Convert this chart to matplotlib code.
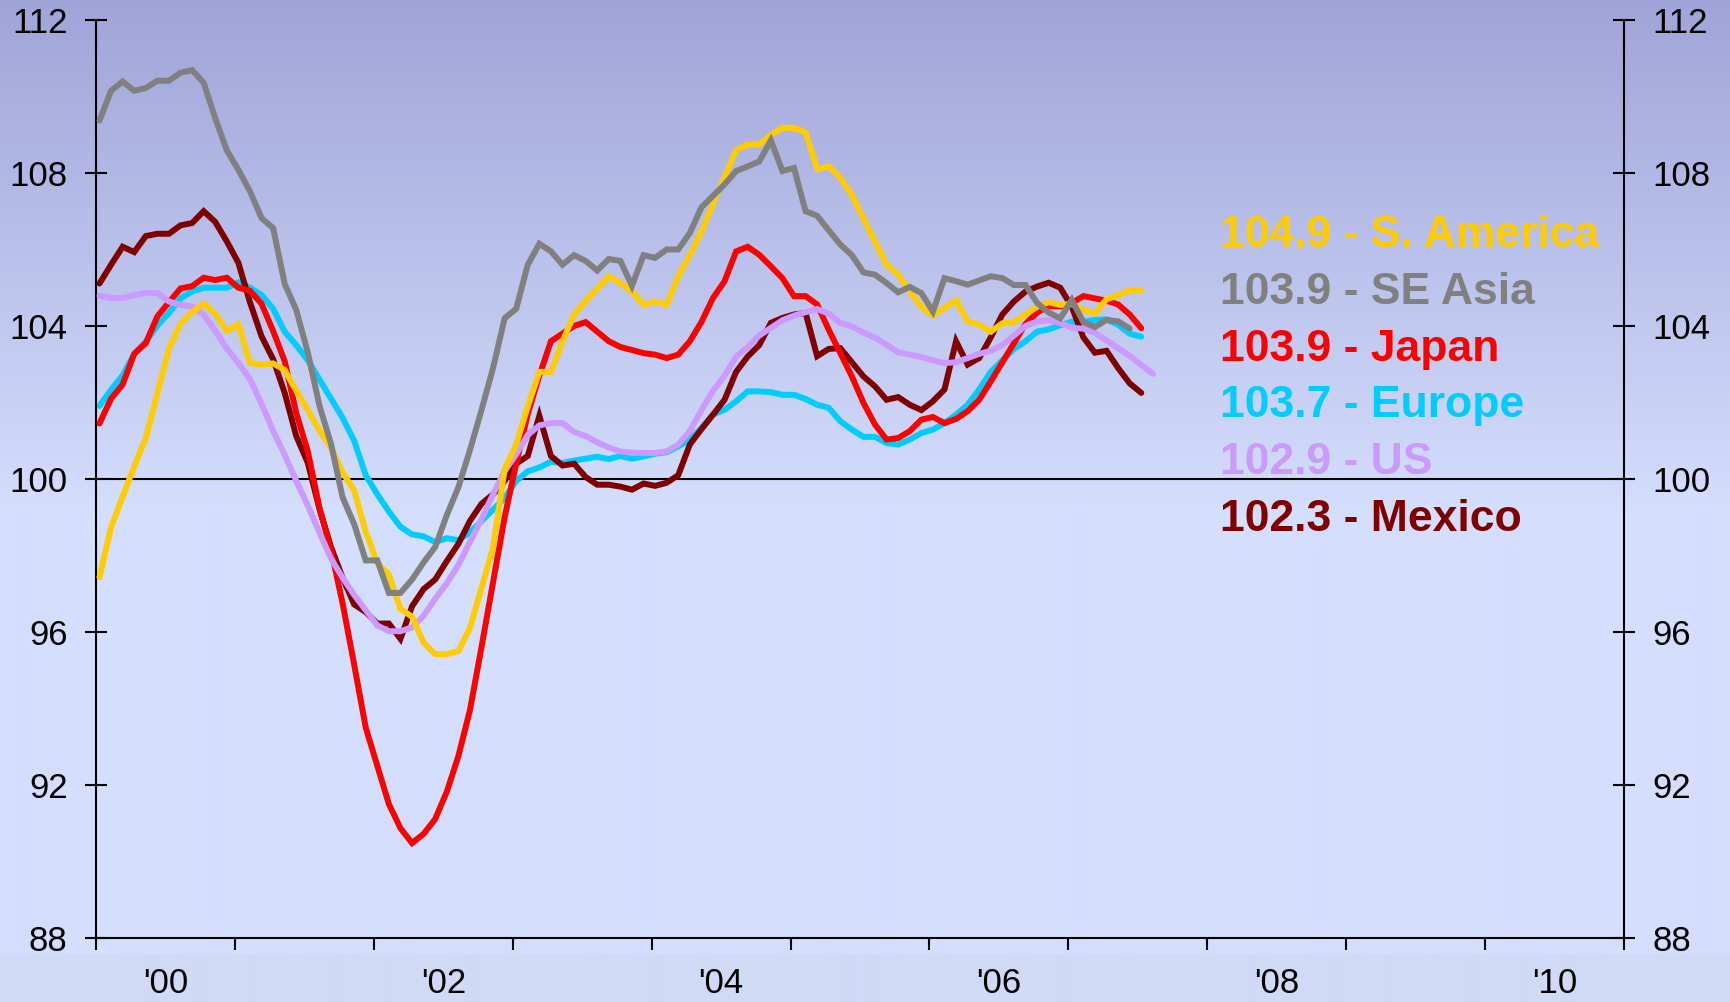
import numpy as np
from matplotlib import pyplot

# monthly index values, Jan 2000 onwards
s_america = [97.43, 98.74, 99.53, 100.33, 101.07, 102.24, 103.41, 104.06, 104.36, 104.58,
             104.32, 103.87, 104.04, 103.03, 102.99, 103.02, 102.85, 102.3, 101.8, 101.27,
             100.82, 100.17, 99.7, 98.62, 97.8, 97.5, 96.6, 96.4, 95.72, 95.42,
             95.42, 95.5, 96.1, 97.15, 98.2, 100.25, 100.9, 101.9, 102.8, 102.8,
             103.6, 104.3, 104.65, 104.98, 105.3, 105.12, 104.9, 104.56, 104.64, 104.56,
             105.3, 105.86, 106.47, 107.2, 107.9, 108.6, 108.74, 108.74, 109.0, 109.18,
             109.18, 109.06, 108.1, 108.17, 107.87, 107.43, 106.8, 106.2, 105.6, 105.34,
             104.9, 104.5, 104.27, 104.47, 104.67, 104.12, 104.03, 103.85, 104.07, 104.1,
             104.3, 104.5, 104.62, 104.55, 104.57, 104.42, 104.33, 104.7, 104.8, 104.94,
             104.94]
se_asia = [109.37, 110.15, 110.39, 110.15, 110.22, 110.41, 110.41, 110.62, 110.69, 110.36,
           109.43, 108.59, 108.08, 107.52, 106.82, 106.56, 105.1, 104.42, 103.3, 101.92,
           100.92, 99.52, 98.82, 97.87, 97.87, 97.02, 97.02, 97.37, 97.82, 98.22,
           99.05, 99.78, 100.75, 101.8, 102.9, 104.2, 104.45, 105.6, 106.15, 105.95,
           105.6, 105.85, 105.7, 105.45, 105.75, 105.7, 105.05, 105.85, 105.78, 106.0,
           106.0, 106.43, 107.1, 107.4, 107.7, 108.05, 108.17, 108.3, 108.85, 108.05,
           108.13, 107.0, 106.88, 106.5, 106.13, 105.85, 105.4, 105.34, 105.12, 104.88,
           105.02, 104.86, 104.38, 105.25, 105.17, 105.08, 105.19, 105.3, 105.25, 105.07,
           105.07, 104.6, 104.35, 104.2, 104.68, 104.1, 103.97, 104.16, 104.12, 103.93]
japan = [101.45, 102.1, 102.47, 103.27, 103.55, 104.25, 104.62, 104.98, 105.04, 105.26,
         105.2, 105.26, 105.0, 104.92, 104.58, 103.87, 103.08, 101.72, 100.72, 99.25,
         98.15, 96.75, 95.15, 93.5, 92.5, 91.5, 90.87, 90.48, 90.72, 91.11,
         91.82, 92.75, 93.95, 95.6, 97.3, 99.0, 100.4, 101.7, 102.7, 103.6,
         103.8, 104.0, 104.1, 103.85, 103.6, 103.45, 103.37, 103.29, 103.25, 103.16,
         103.25, 103.6, 104.1, 104.73, 105.17, 105.95, 106.07, 105.86, 105.56, 105.25,
         104.78, 104.78, 104.56, 103.9, 103.29, 102.68, 101.99, 101.42, 101.03, 101.07,
         101.25, 101.55, 101.62, 101.46, 101.57, 101.77, 102.07, 102.55, 103.05, 103.55,
         104.05, 104.35, 104.52, 104.51, 104.6, 104.78, 104.72, 104.66, 104.56, 104.3,
         103.94]
europe = [101.91, 102.33, 102.71, 103.27, 103.59, 104.01, 104.34, 104.72, 104.9, 105.0,
          105.0, 105.0, 105.14, 105.0, 104.81, 104.45, 103.85, 103.5, 103.1, 102.6,
          102.1, 101.6, 101.0, 100.1, 99.6, 99.15, 98.75, 98.55, 98.5, 98.35,
          98.45, 98.4, 98.6, 98.9, 99.2, 99.5, 99.95, 100.2, 100.3, 100.45,
          100.42, 100.48, 100.53, 100.58, 100.52, 100.6, 100.53, 100.59, 100.66, 100.7,
          100.85, 101.03, 101.33, 101.68, 101.81, 102.03, 102.29, 102.29, 102.27, 102.2,
          102.2, 102.09, 101.94, 101.86, 101.51, 101.29, 101.1, 101.1, 100.94, 100.9,
          101.03, 101.2, 101.29, 101.46, 101.68, 101.94, 102.34, 102.8, 103.1, 103.4,
          103.6, 103.85, 103.91, 104.02, 104.11, 104.11, 104.16, 104.17, 104.03, 103.8,
          103.72]
us = [104.79, 104.73, 104.73, 104.81, 104.86, 104.86, 104.64, 104.55, 104.51, 104.3,
      103.87, 103.41, 103.03, 102.61, 101.96, 101.26, 100.63, 99.95, 99.3, 98.6,
      97.92, 97.42, 96.97, 96.57, 96.17, 96.02, 96.02, 96.12, 96.42, 96.87,
      97.27, 97.75, 98.35, 98.95, 99.6, 100.2, 100.65, 101.15, 101.4, 101.46,
      101.46, 101.23, 101.12, 100.96, 100.82, 100.72, 100.69, 100.68, 100.68, 100.72,
      100.9, 101.25, 101.8, 102.3, 102.7, 103.2, 103.45, 103.75, 103.95, 104.15,
      104.27, 104.36, 104.44, 104.32, 104.08, 103.99, 103.83, 103.69, 103.51, 103.31,
      103.25, 103.19, 103.1, 103.03, 103.05, 103.16, 103.27, 103.35, 103.5, 103.75,
      104.0, 104.12, 104.15, 104.08, 103.95, 103.93, 103.82, 103.62, 103.42, 103.22,
      102.98, 102.75]
mexico = [105.11, 105.6, 106.07, 105.93, 106.35, 106.41, 106.41, 106.63, 106.69, 107.0,
          106.72, 106.21, 105.65, 104.62, 103.73, 103.13, 102.25, 101.12, 100.42, 99.22,
          98.22, 97.42, 96.72, 96.52, 96.22, 96.22, 95.82, 96.67, 97.12, 97.37,
          97.85, 98.3, 98.9, 99.35, 99.6, 99.95, 100.4, 100.6, 101.65, 100.6,
          100.35, 100.4, 100.05, 99.85, 99.85, 99.8, 99.72, 99.88, 99.82, 99.9,
          100.1, 100.9, 101.3, 101.68, 102.07, 102.8, 103.2, 103.5, 104.08, 104.21,
          104.3, 104.34, 103.21, 103.4, 103.42, 103.05, 102.68, 102.42, 102.07, 102.14,
          101.94, 101.8, 102.03, 102.34, 103.6, 102.99, 103.16, 103.7, 104.3, 104.64,
          104.9, 105.03, 105.13, 105.0, 104.5, 103.7, 103.3, 103.35, 102.9, 102.5,
          102.25]

names = ["S. America", "SE Asia", "Japan", "Europe", "US", "Mexico"]
latest = ["104.9", "103.9", "103.9", "103.7", "102.9", "102.3"]
colors = ["#FFCC00", "#808080", "#FF0000", "#00CCFF", "#CC99FF", "#800000"]
series = [s_america, se_asia, japan, europe, us, mexico]

year_ticks = list(range(2000, 2012))
label_years = [2000, 2002, 2004, 2006, 2008, 2010]
year_labels = ["'00", "'02", "'04", "'06", "'08", "'10"]
y_ticks = [88, 92, 96, 100, 104, 108, 112]

pyplot.rcParams['font.family'] = ['Liberation Sans', 'DejaVu Sans']

fig = pyplot.figure(figsize=(17.3, 10.02), dpi=100)

# background gradient (dark lilac at the top, pale blue lower down)
h = 1002
top_c = np.array([160, 164, 216]) / 255
low_c = np.array([212, 222, 253]) / 255
foot_c = np.array([208, 218, 245]) / 255
grad = np.empty((h, 1, 3))
fade = 510
t = np.linspace(0, 1, fade)[:, None]
grad[:fade, 0, :] = top_c + (low_c - top_c) * t
grad[fade:, 0, :] = low_c
grad[955:, 0, :] = foot_c
bg = fig.add_axes([0, 0, 1, 1], zorder=-10)
bg.imshow(grad, aspect='auto', extent=[0, 1, 0, 1], interpolation='bilinear')
bg.axis('off')

ax = fig.add_axes([0.0555, 0.0639, 0.8832, 0.9162])
ax.patch.set_alpha(0)

ax.axhline(100, color='black', lw=1.5, zorder=1)

draw_order = [3, 5, 2, 4, 0, 1]  # europe at the bottom, se asia on top
for k in draw_order:
    vals = series[k]
    x = 2000 + (np.arange(len(vals)) + 0.3) / 12
    ax.plot(x, vals, color=colors[k], lw=4.3, solid_joinstyle='miter',
            solid_capstyle='round', zorder=2 + draw_order.index(k))

ax.set_xlim(2000, 2011)
ax.set_ylim(88, 112)

ax.set_yticks(y_ticks)
ax.set_yticklabels([str(v) for v in y_ticks])
ax.tick_params(axis='y', direction='inout', length=16, width=1.5, labelsize=25,
               pad=12.5, left=True, right=True, labelleft=True, labelright=True)

ax.set_xticks(year_ticks)
ax.set_xticklabels([])
ax.set_xticks([y + 0.5 for y in label_years], minor=True)
ax.set_xticklabels(year_labels, minor=True)
ax.tick_params(axis='x', which='major', direction='out', length=8.5, width=1.5)
ax.tick_params(axis='x', which='minor', length=0, labelsize=25, pad=21)

ax.spines['top'].set_visible(False)
for side in ['left', 'right', 'bottom']:
    ax.spines[side].set_linewidth(1.5)
    ax.spines[side].set_color('black')

# legend as coloured text
for k in range(len(names)):
    ax.text(0.7353, 0.753 - k * 0.062, latest[k] + " - " + names[k], transform=ax.transAxes,
            color=colors[k], fontsize=32, fontweight='bold', va='baseline', ha='left')

pyplot.savefig('out.png', dpi=100)
